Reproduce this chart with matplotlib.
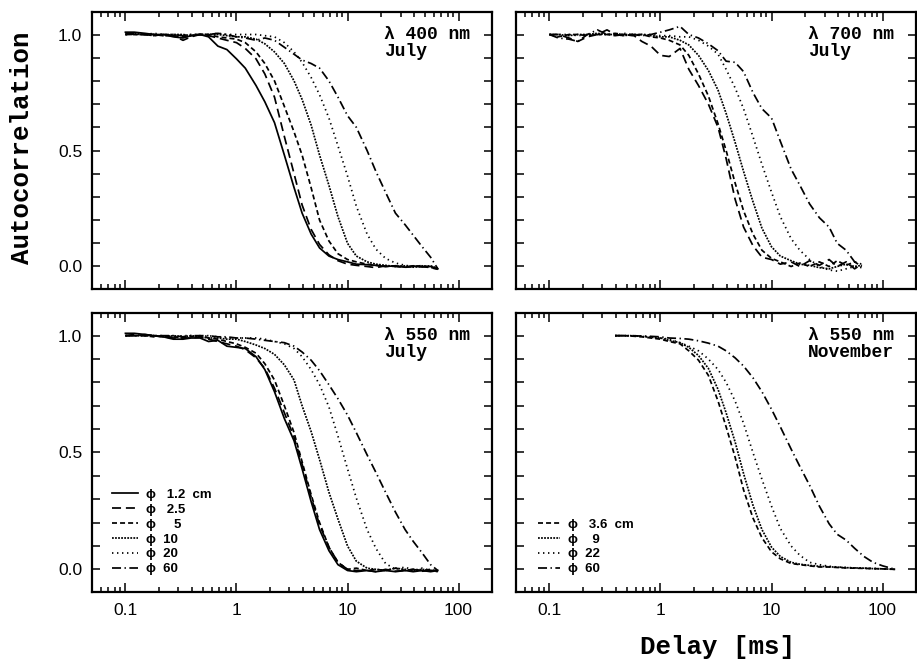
import matplotlib
matplotlib.use('Agg')
import matplotlib.pyplot as plt
from matplotlib.ticker import MultipleLocator, FixedLocator, FixedFormatter, LogLocator, NullFormatter

# delays [ms] shared by the July panels
delay_july = [0.1, 0.12, 0.15, 0.18, 0.22, 0.27, 0.33, 0.39, 0.47, 0.56,
              0.68, 0.82, 1.0, 1.2, 1.5, 1.8, 2.2, 2.7, 3.3, 3.9,
              4.7, 5.6, 6.8, 8.2, 10, 12, 15, 18, 22, 27,
              33, 39, 47, 56, 65]

# lambda 400 nm, July
g400_12 = [1.01, 1.01, 1.005, 1.0, 1.0, 0.99, 0.985, 0.995, 1.0, 0.99,
           0.95, 0.935, 0.895, 0.855, 0.78, 0.71, 0.62, 0.48, 0.34, 0.23,
           0.14, 0.08, 0.045, 0.03, 0.02, 0.01, 0.008, 0.005, 0.0, 0.003,
           -0.003, 0.002, -0.002, 0.0, -0.01]
g400_25 = [1.005, 1.0, 1.0, 0.995, 1.0, 0.995, 0.975, 0.99, 1.0, 0.995,
           0.985, 0.975, 0.965, 0.94, 0.895, 0.83, 0.73, 0.56, 0.40, 0.265,
           0.16, 0.095, 0.05, 0.025, 0.01, 0.005, 0.0, -0.005, 0.003, 0.0,
           -0.004, 0.003, 0.0, -0.005, -0.012]
g400_5 = [1.0, 1.0, 1.0, 1.0, 0.995, 0.995, 0.99, 0.995, 1.0, 1.0,
          0.99, 0.985, 0.98, 0.965, 0.925, 0.875, 0.80, 0.69, 0.58, 0.48,
          0.34, 0.20, 0.11, 0.055, 0.03, 0.02, 0.01, 0.005, 0.0, 0.003,
          -0.002, 0.0, 0.004, -0.004, -0.01]
g400_10 = [1.0, 1.005, 1.0, 1.0, 0.995, 1.0, 1.0, 0.995, 1.0, 1.0,
           1.0, 0.995, 0.99, 0.99, 0.98, 0.96, 0.925, 0.875, 0.80, 0.72,
           0.61, 0.48, 0.35, 0.215, 0.10, 0.045, 0.02, 0.01, 0.005, 0.0,
           0.003, -0.003, 0.0, 0.003, -0.008]
g400_20 = [1.0, 1.0, 1.0, 1.005, 1.0, 1.0, 0.995, 1.0, 1.0, 1.0,
           1.005, 1.0, 1.0, 1.0, 1.0, 0.995, 0.99, 0.965, 0.925, 0.88,
           0.815, 0.74, 0.64, 0.52, 0.39, 0.26, 0.14, 0.075, 0.035, 0.015,
           0.005, 0.0, 0.003, -0.003, -0.008]
g400_60 = [1.0, 1.005, 1.0, 0.995, 1.0, 1.0, 0.995, 1.0, 1.0, 1.0,
           1.005, 1.0, 0.99, 0.985, 0.975, 0.985, 0.975, 0.945, 0.915, 0.89,
           0.875, 0.855, 0.80, 0.73, 0.65, 0.60, 0.50, 0.41, 0.32, 0.23,
           0.18, 0.135, 0.085, 0.04, -0.01]

# lambda 700 nm, July
g700_25 = [1.0, 1.0, 0.985, 0.97, 0.99, 1.0, 1.02, 1.0, 0.995, 1.0,
           0.97, 0.95, 0.91, 0.905, 0.94, 0.85, 0.78, 0.70, 0.60, 0.465,
           0.29, 0.17, 0.09, 0.04, 0.03, 0.01, 0.02, 0.0, 0.025, 0.005,
           0.03, 0.0, 0.02, -0.01, 0.01]
g700_5 = [1.0, 0.99, 1.0, 1.0, 0.995, 1.0, 1.0, 1.005, 1.0, 0.995,
          1.0, 0.99, 0.985, 0.975, 0.955, 0.91, 0.83, 0.735, 0.615, 0.50,
          0.36, 0.24, 0.14, 0.07, 0.035, 0.02, 0.0, 0.015, 0.0, 0.02,
          0.0, 0.025, 0.005, 0.02, 0.0]
g700_10 = [1.0, 1.0, 0.995, 1.0, 1.0, 1.005, 1.0, 1.0, 0.995, 1.0,
           1.0, 0.995, 0.99, 0.99, 0.975, 0.955, 0.91, 0.845, 0.76, 0.66,
           0.535, 0.41, 0.28, 0.165, 0.085, 0.045, 0.025, 0.01, 0.005, -0.005,
           -0.01, 0.0, 0.01, 0.0, 0.005]
g700_20 = [1.0, 1.0, 1.0, 0.995, 1.0, 1.0, 1.0, 1.0, 1.005, 1.0,
           1.0, 1.0, 0.995, 0.995, 0.99, 0.99, 0.975, 0.95, 0.915, 0.85,
           0.77, 0.68, 0.56, 0.44, 0.32, 0.215, 0.12, 0.07, 0.03, 0.0,
           -0.015, -0.02, -0.01, 0.0, -0.005]
g700_60 = [1.0, 0.985, 0.98, 0.97, 1.0, 1.02, 1.0, 0.995, 1.0, 1.0,
           0.995, 1.0, 1.01, 1.02, 1.035, 1.0, 0.985, 0.96, 0.93, 0.885,
           0.88, 0.84, 0.75, 0.68, 0.64, 0.54, 0.42, 0.35, 0.27, 0.21,
           0.17, 0.10, 0.07, 0.02, 0.01]

# lambda 550 nm, July
g550_12 = [1.01, 1.01, 1.005, 1.0, 0.995, 0.985, 0.985, 0.99, 0.99, 0.975,
           0.98, 0.955, 0.95, 0.945, 0.91, 0.855, 0.76, 0.645, 0.55, 0.43,
           0.29, 0.17, 0.08, 0.02, -0.005, -0.01, -0.005, -0.01, -0.005, -0.01,
           -0.005, -0.01, -0.005, -0.01, -0.005]
g550_25 = [1.0, 1.005, 1.0, 1.0, 0.995, 0.99, 0.99, 0.99, 0.995, 0.985,
           0.975, 0.965, 0.955, 0.94, 0.905, 0.86, 0.775, 0.67, 0.565, 0.45,
           0.31, 0.19, 0.095, 0.03, 0.0, -0.005, -0.005, -0.01, 0.0, -0.008,
           -0.005, 0.0, -0.008, -0.005, -0.01]
g550_5 = [1.0, 1.0, 1.0, 0.995, 1.0, 0.995, 0.99, 0.995, 1.0, 0.99,
          0.985, 0.975, 0.965, 0.95, 0.925, 0.88, 0.81, 0.70, 0.585, 0.46,
          0.32, 0.20, 0.095, 0.03, 0.0, 0.005, -0.005, 0.0, -0.005, 0.005,
          -0.005, 0.0, -0.005, 0.0, -0.008]
g550_10 = [1.0, 1.0, 1.0, 1.0, 0.995, 1.0, 0.995, 1.0, 0.995, 0.99,
           0.99, 0.985, 0.985, 0.975, 0.96, 0.945, 0.92, 0.875, 0.81, 0.70,
           0.59, 0.47, 0.33, 0.215, 0.10, 0.035, 0.005, 0.0, -0.005, 0.005,
           0.0, -0.005, 0.0, -0.005, -0.005]
g550_20 = [1.0, 1.0, 1.0, 1.0, 1.0, 0.995, 1.0, 1.0, 0.995, 1.0,
           0.995, 0.99, 0.99, 0.99, 0.99, 0.985, 0.975, 0.965, 0.945, 0.91,
           0.855, 0.79, 0.695, 0.57, 0.43, 0.305, 0.17, 0.09, 0.025, 0.0,
           0.01, -0.005, 0.005, -0.005, -0.005]
g550_60 = [1.0, 1.0, 1.005, 1.0, 1.0, 1.0, 0.995, 1.0, 1.0, 1.0,
           0.995, 0.995, 0.99, 0.99, 0.985, 0.98, 0.975, 0.97, 0.955, 0.93,
           0.895, 0.85, 0.79, 0.73, 0.66, 0.585, 0.49, 0.415, 0.33, 0.245,
           0.17, 0.12, 0.07, 0.02, -0.005]

# lambda 550 nm, November
delay_nov = [0.39, 0.47, 0.56, 0.68, 0.82, 1.0, 1.2, 1.5, 1.8, 2.2,
             2.7, 3.3, 3.9, 4.7, 5.6, 6.8, 8.2, 10, 12, 15,
             18, 22, 27, 33, 39, 47, 56, 68, 82, 100, 130]
gnov_36 = [1.0, 1.0, 0.998, 0.995, 0.99, 0.985, 0.975, 0.965, 0.935, 0.895,
           0.83, 0.72, 0.61, 0.48, 0.34, 0.22, 0.135, 0.075, 0.045, 0.025,
           0.02, 0.015, 0.01, 0.01, 0.008, 0.006, 0.005, 0.004, 0.003, 0.002, 0.0]
gnov_9 = [1.0, 1.0, 0.999, 0.997, 0.993, 0.99, 0.98, 0.97, 0.95, 0.915,
          0.86, 0.77, 0.67, 0.545, 0.41, 0.275, 0.17, 0.095, 0.055, 0.03,
          0.022, 0.017, 0.013, 0.011, 0.009, 0.007, 0.006, 0.005, 0.003, 0.002, 0.0]
gnov_22 = [1.0, 1.0, 1.0, 0.998, 0.995, 0.99, 0.985, 0.97, 0.955, 0.935,
           0.90, 0.855, 0.80, 0.72, 0.625, 0.50, 0.385, 0.27, 0.175, 0.10,
           0.06, 0.03, 0.02, 0.013, 0.01, 0.008, 0.006, 0.005, 0.004, 0.002, 0.0]
gnov_60 = [1.0, 1.0, 1.0, 0.998, 0.997, 0.995, 0.99, 0.988, 0.985, 0.978,
           0.968, 0.955, 0.935, 0.905, 0.87, 0.82, 0.76, 0.685, 0.61, 0.515,
           0.44, 0.36, 0.27, 0.195, 0.15, 0.125, 0.09, 0.055, 0.03, 0.015, 0.0]

labels_july = ['ϕ   1.2  cm', 'ϕ   2.5', 'ϕ     5', 'ϕ  10', 'ϕ  20', 'ϕ  60']
labels_nov = ['ϕ   3.6  cm', 'ϕ    9', 'ϕ  22', 'ϕ  60']

# line styles (absolute dash lengths in points)
ls_solid = '-'
ls_long = (0, (6.5, 3.5))
ls_dash = (0, (3.6, 2.2))
ls_fine = (0, (1.3, 0.9))
ls_dot = (0, (1.0, 2.6))
ls_dashdot = (0, (6.5, 2.5, 1.0, 2.5))

plt.rcParams['lines.scale_dashes'] = False
plt.rcParams['font.family'] = ['Liberation Sans', 'DejaVu Sans']

W, H = 917, 661
fig = plt.figure(figsize=(W / 100, H / 100), dpi=100)

left_x, right_x, panel_w = 92, 516, 400
top_y, top_h = 12, 277
bot_y, bot_h = 313, 279


def make_ax(x, y, w, h):
    return fig.add_axes([x / W, 1 - (y + h) / H, w / W, h / H])


def style(ax, show_x, show_y):
    ax.set_xscale('log')
    ax.set_xlim(0.05, 200)
    ax.set_ylim(-0.097, 1.097)
    ax.xaxis.set_major_locator(FixedLocator([0.1, 1, 10, 100]))
    ax.xaxis.set_minor_locator(LogLocator(base=10, subs=range(2, 10)))
    ax.xaxis.set_minor_formatter(NullFormatter())
    ax.yaxis.set_major_locator(MultipleLocator(0.5))
    ax.yaxis.set_minor_locator(MultipleLocator(0.1))
    if show_x:
        ax.xaxis.set_major_formatter(FixedFormatter(['0.1', '1', '10', '100']))
    else:
        ax.xaxis.set_major_formatter(NullFormatter())
    if show_y:
        ax.yaxis.set_major_formatter(plt.FuncFormatter(lambda v, p: '%.1f' % v))
    else:
        ax.yaxis.set_major_formatter(NullFormatter())
    ax.tick_params(which='both', direction='in', top=True, right=True, width=1.1, labelsize=12.5)
    ax.tick_params(axis='x', which='major', length=6.5, pad=8)
    ax.tick_params(axis='x', which='minor', length=3.6)
    ax.tick_params(axis='y', which='both', length=5.8, pad=7)
    for s in ax.spines.values():
        s.set_linewidth(1.6)


def panel_label(ax, text):
    ax.text(0.73, 0.95, text, transform=ax.transAxes, ha='left', va='top',
            family='Liberation Mono', weight='bold', fontsize=13, linespacing=1.0)


lw = 1.25
ax1 = make_ax(left_x, top_y, panel_w, top_h)
ax1.plot(delay_july, g400_12, color='k', lw=lw, ls=ls_solid)
ax1.plot(delay_july, g400_25, color='k', lw=lw, ls=ls_long)
ax1.plot(delay_july, g400_5, color='k', lw=lw, ls=ls_dash)
ax1.plot(delay_july, g400_10, color='k', lw=lw, ls=ls_fine)
ax1.plot(delay_july, g400_20, color='k', lw=lw, ls=ls_dot)
ax1.plot(delay_july, g400_60, color='k', lw=lw, ls=ls_dashdot)
style(ax1, False, True)
panel_label(ax1, 'λ 400 nm\nJuly')

ax2 = make_ax(right_x, top_y, panel_w, top_h)
ax2.plot(delay_july, g700_25, color='k', lw=lw, ls=ls_long)
ax2.plot(delay_july, g700_5, color='k', lw=lw, ls=ls_dash)
ax2.plot(delay_july, g700_10, color='k', lw=lw, ls=ls_fine)
ax2.plot(delay_july, g700_20, color='k', lw=lw, ls=ls_dot)
ax2.plot(delay_july, g700_60, color='k', lw=lw, ls=ls_dashdot)
style(ax2, False, False)
panel_label(ax2, 'λ 700 nm\nJuly')

ax3 = make_ax(left_x, bot_y, panel_w, bot_h)
h3 = []
for vals, ls in zip([g550_12, g550_25, g550_5, g550_10, g550_20, g550_60],
                    [ls_solid, ls_long, ls_dash, ls_fine, ls_dot, ls_dashdot]):
    h3 += ax3.plot(delay_july, vals, color='k', lw=lw, ls=ls)
style(ax3, True, True)
panel_label(ax3, 'λ 550 nm\nJuly')

ax4 = make_ax(right_x, bot_y, panel_w, bot_h)
h4 = []
for vals, ls in zip([gnov_36, gnov_9, gnov_22, gnov_60],
                    [ls_dash, ls_fine, ls_dot, ls_dashdot]):
    h4 += ax4.plot(delay_nov, vals, color='k', lw=lw, ls=ls)
style(ax4, True, False)
panel_label(ax4, 'λ 550 nm\nNovember')

leg_kw = dict(loc='lower left', frameon=False, borderpad=0, borderaxespad=0,
              handletextpad=0.6, labelspacing=0.2,
              prop=dict(family=['Liberation Sans', 'DejaVu Sans'], size=9.5, weight='bold'))
ax3.legend(h3, labels_july, bbox_to_anchor=(0.05, 0.06), handlelength=2.0, **leg_kw)
ax4.legend(h4, labels_nov, bbox_to_anchor=(0.055, 0.06), handlelength=1.7, **leg_kw)

fig.text(22 / W, 1 - 148 / H, 'Autocorrelation', rotation=90, ha='center', va='center',
         family='Liberation Mono', weight='bold', fontsize=18.5)
fig.text(717 / W, 1 - 647 / H, 'Delay [ms]', ha='center', va='center',
         family='Liberation Mono', weight='bold', fontsize=18.5)

plt.savefig('out.png', dpi=100)
